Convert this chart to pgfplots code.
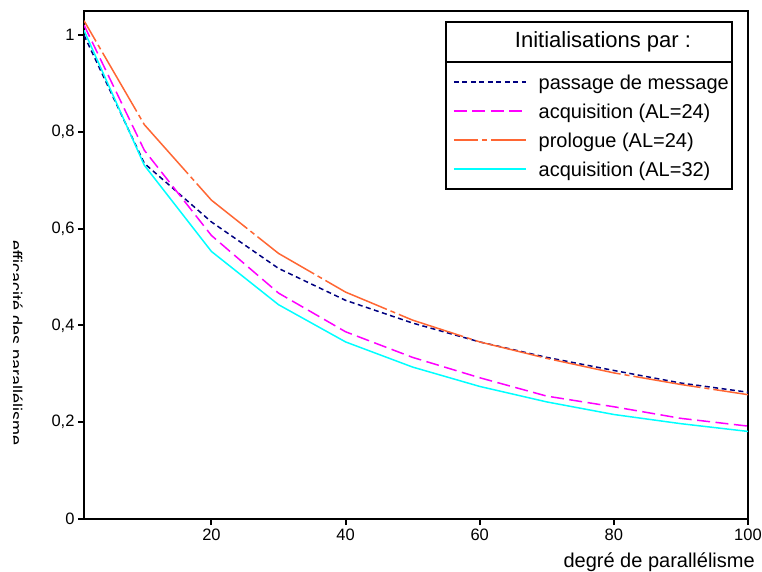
\documentclass[border=0pt]{standalone}
\usepackage{fontspec}
\setmainfont{Liberation Sans}
\usepackage{pgfplots}
\pgfplotsset{compat=1.18}

\definecolor{msgblue}{RGB}{0,0,128}
\definecolor{mymagenta}{RGB}{255,0,255}
\definecolor{myorange}{RGB}{255,102,51}
\definecolor{mycyan}{RGB}{0,255,255}

\begin{document}
\begin{tikzpicture}[x=1pt,y=1pt]
\useasboundingbox (0,0) rectangle (762,571);
% vertical axis title, trimmed on its outer side
\begin{scope}
  \clip (13,0) rectangle (70,571);
  \node[rotate=-90, anchor=base, inner sep=0pt, font=\fontsize{18}{20}\selectfont]
    at (9.5,228) {efficacité des parallélisme};
\end{scope}
\begin{axis}[
  at={(84pt,52pt)}, anchor=south west,
  scale only axis, width=664pt, height=508pt,
  xmin=1, xmax=100, ymin=0, ymax=1.05,
  xtick={20,40,60,80,100},
  ytick={0,0.2,0.4,0.6,0.8,1},
  tick align=outside, major tick length=6pt,
  xtick pos=left, ytick pos=left,
  axis line style={line width=2pt},
  every tick/.style={black, line width=2pt},
  ticklabel style={font=\fontsize{16.5}{18}\selectfont},
  /pgf/number format/use comma,
  /pgf/number format/assume math mode=true,
  xlabel={degré de parallélisme},
  xlabel style={at={(axis description cs:1.0105,-0.085)}, anchor=east,
    inner sep=0pt, font=\fontsize{20}{22}\selectfont},
  legend cell align=left,
  legend image code/.code={\draw[#1] (0pt,0.27em) -- (72pt,0.27em);},
  legend style={at={(axis description cs:0.5557,0.873)}, anchor=north west,
    draw=none, fill=none, inner sep=0pt, row sep=11pt, column sep=12pt,
    font=\fontsize{20}{22}\selectfont,
    nodes={inner sep=0pt, text height=14pt, text depth=4pt}},
]
\addplot[draw=msgblue, line width=1.5pt, dash pattern=on 5pt off 3.5pt] coordinates {
  (1,1.000) (10,0.735) (20,0.614) (30,0.518) (40,0.452) (50,0.405)
  (60,0.366) (70,0.334) (80,0.307) (90,0.281) (100,0.262)};
\addlegendentry{passage de message}
\addplot[draw=mymagenta, line width=1.5pt, dash pattern=on 13pt off 5.5pt] coordinates {
  (1,1.021) (10,0.762) (20,0.586) (30,0.467) (40,0.387) (50,0.334)
  (60,0.292) (70,0.254) (80,0.232) (90,0.208) (100,0.192)};
\addlegendentry{acquisition (AL=24)}
\addplot[draw=myorange, line width=1.5pt, dash pattern=on 68pt off 4pt on 5pt off 4pt, dash phase=44pt] coordinates {
  (1,1.030) (10,0.815) (20,0.659) (30,0.549) (40,0.469) (50,0.411)
  (60,0.366) (70,0.332) (80,0.302) (90,0.278) (100,0.257)};
\addlegendentry{prologue (AL=24)}
\addplot[draw=mycyan, line width=1.5pt] coordinates {
  (1,1.010) (10,0.731) (20,0.553) (30,0.443) (40,0.366) (50,0.314)
  (60,0.274) (70,0.242) (80,0.216) (90,0.197) (100,0.181)};
\addlegendentry{acquisition (AL=32)}
% legend frame with its title row
\draw[line width=1.5pt] (axis description cs:0.5452,0.6496) rectangle (axis description cs:0.9759,0.9783);
\draw[line width=1.5pt] (axis description cs:0.5452,0.8996) -- (axis description cs:0.9774,0.8996);
\node[font=\fontsize{22}{24}\selectfont, inner sep=0pt] at (axis description cs:0.7816,0.939) {Initialisations par :};
\end{axis}
\end{tikzpicture}
\end{document}
